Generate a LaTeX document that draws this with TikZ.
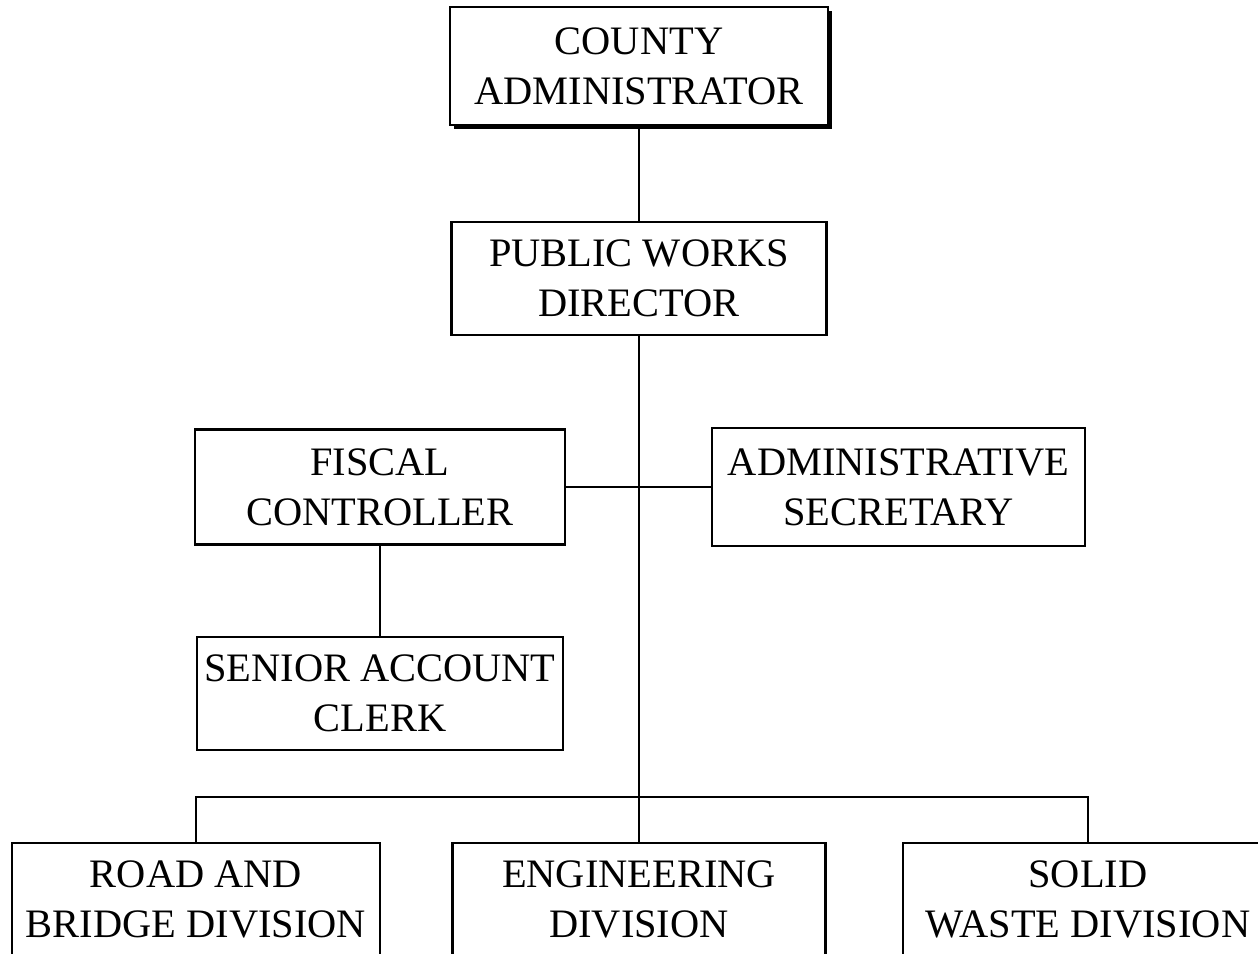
\documentclass[tikz,border=0pt]{standalone}
\usepackage{fontspec}
\setmainfont{Liberation Serif}
\usetikzlibrary{shadows}
\begin{document}
\begin{tikzpicture}

    \tikzstyle{unit} = [draw, line width=1.4pt, fill=white, align=center, minimum height=2.28cm, inner sep=2pt, font=\fontsize{23}{28.5}\selectfont]
    \tikzstyle{link} = [line width=1.5pt]
    \tikzstyle{topshadow} = [drop shadow={shadow xshift=0.07cm, shadow yshift=-0.07cm, fill=black, opacity=1}]

    \useasboundingbox (0,0) rectangle (25.16,-19.08);
    \clip (0,0) rectangle (25.16,-19.08);

    \node[unit, topshadow, minimum width=7.56cm, minimum height=2.36cm] (admin) at (12.78,-1.32) {COUNTY\\ADMINISTRATOR};
    \node[unit, minimum width=7.5cm, minimum height=2.26cm] (director) at (12.78,-5.57) {PUBLIC WORKS\\DIRECTOR};

    \node[unit, minimum width=7.4cm, minimum height=2.3cm] (fiscal) at (7.6,-9.74) {FISCAL\\CONTROLLER};
    \node[unit, minimum width=7.46cm, minimum height=2.36cm] (secretary) at (17.97,-9.74) {ADMINISTRATIVE\\SECRETARY};
    \node[unit, minimum width=7.32cm, minimum height=2.26cm] (clerk) at (7.6,-13.87) {SENIOR ACCOUNT\\CLERK};

    \node[unit, minimum width=7.36cm, minimum height=2.26cm] (road) at (3.92,-17.99) {ROAD AND\\BRIDGE DIVISION};
    \node[unit, minimum width=7.46cm, minimum height=2.26cm] (engineering) at (12.78,-17.99) {ENGINEERING\\DIVISION};
    \node[unit, minimum width=7.4cm, minimum height=2.26cm] (waste) at (21.76,-17.99) {SOLID\\WASTE DIVISION};

    \coordinate (bus) at (12.78,-15.94);

    \draw[link] (admin.south) -- (director.north);
    \draw[link] (director.south) -- (engineering.north);
    \draw[link] (fiscal.east) -- (secretary.west);
    \draw[link] (fiscal.south) -- (clerk.north);
    \draw[link] (road.north) |- (bus) -| (waste.north);

\end{tikzpicture}
\end{document}
